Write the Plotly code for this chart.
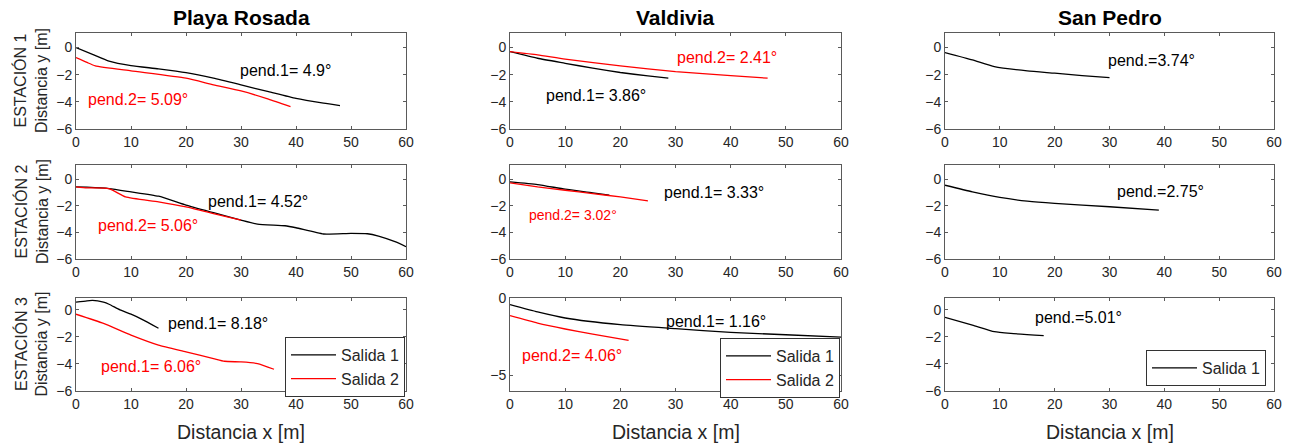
import plotly.graph_objects as go

# ---------------- data ----------------
sites = ["Playa Rosada", "Valdivia", "San Pedro"]
stations = ["ESTACIÓN 1", "ESTACIÓN 2", "ESTACIÓN 3"]
x_ticks = [0, 10, 20, 30, 40, 50, 60]

# Playa Rosada
pr1_s1_x = [0, 3, 6, 10, 15, 20, 25, 30, 35, 40, 45, 48]
pr1_s1_y = [0, -0.5, -1.0, -1.33, -1.57, -1.85, -2.26, -2.75, -3.25, -3.75, -4.1, -4.28]
pr1_s2_x = [0, 2, 3.5, 10, 20, 25, 30, 35, 39]
pr1_s2_y = [-0.74, -1.1, -1.35, -1.72, -2.26, -2.75, -3.2, -3.8, -4.35]

pr2_s1_x = [0, 2, 6, 10, 15, 20, 25, 30, 33, 38, 40, 45, 50, 53, 55, 58, 60]
pr2_s1_y = [-0.57, -0.6, -0.7, -0.95, -1.28, -1.95, -2.52, -3.08, -3.38, -3.5, -3.65, -4.12, -4.07, -4.1, -4.28, -4.7, -5.07]
pr2_s2_x = [0, 2, 6, 9, 15, 20, 25, 30]
pr2_s2_y = [-0.57, -0.65, -0.7, -1.33, -1.7, -2.08, -2.58, -3.08]

pr3_s1_x = [0, 2, 3, 5, 6, 8, 10, 12, 15]
pr3_s1_y = [0.57, 0.67, 0.7, 0.57, 0.42, 0.0, -0.32, -0.7, -1.36]
pr3_s2_x = [0, 5, 10, 15, 20, 25, 27, 30, 33, 36]
pr3_s2_y = [-0.32, -1.0, -1.86, -2.6, -3.1, -3.6, -3.8, -3.85, -3.97, -4.39]

# Valdivia
va1_s1_x = [0, 5, 10, 15, 20, 25, 28.7]
va1_s1_y = [-0.3, -0.79, -1.16, -1.52, -1.84, -2.09, -2.26]
va1_s2_x = [0, 5, 10, 20, 30, 40, 46.7]
va1_s2_y = [-0.3, -0.54, -0.86, -1.35, -1.77, -2.07, -2.26]

va2_s1_x = [0, 5, 10, 15, 18]
va2_s1_y = [-0.2, -0.4, -0.75, -1.02, -1.2]
va2_s2_x = [0, 5, 10, 15, 20, 25]
va2_s2_y = [-0.28, -0.58, -0.83, -1.08, -1.33, -1.62]

va3_s1_x = [0, 5, 10, 20, 30, 40, 50, 60]
va3_s1_y = [-0.43, -0.9, -1.29, -1.72, -1.98, -2.22, -2.37, -2.52]
va3_s2_x = [0, 5, 10, 15, 21.5]
va3_s2_y = [-1.14, -1.62, -2.0, -2.33, -2.74]

# San Pedro
sp1_s1_x = [0, 5, 9, 15, 20, 25, 30]
sp1_s1_y = [-0.37, -0.91, -1.4, -1.72, -1.89, -2.07, -2.21]
sp2_s1_x = [0, 5, 10, 15, 20, 30, 39]
sp2_s1_y = [-0.45, -0.95, -1.37, -1.65, -1.82, -2.07, -2.32]
sp3_s1_x = [0, 5, 9, 12, 18]
sp3_s1_y = [-0.55, -1.12, -1.61, -1.74, -1.91]

# slope labels: (text, x, y, colour, size)
labels = {
    (1, 1): [("pend.1= 4.9°", 29.4, -1.7, "black", 16), ("pend.2= 5.09°", 1.9, -3.8, "red", 16)],
    (2, 1): [("pend.1= 4.52°", 23.6, -1.65, "black", 16), ("pend.2= 5.06°", 3.6, -3.45, "red", 16)],
    (3, 1): [("pend.1= 8.18°", 16.4, -1.0, "black", 16), ("pend.1= 6.06°", 4.25, -4.2, "red", 16)],
    (1, 2): [("pend.2= 2.41°", 29.9, -0.71, "red", 16), ("pend.1= 3.86°", 6.2, -3.54, "black", 16)],
    (2, 2): [("pend.1= 3.33°", 27.5, -1.0, "black", 16), ("pend.2= 3.02°", 3.0, -2.7, "red", 14)],
    (3, 2): [("pend.1= 1.16°", 28.0, -1.5, "black", 16), ("pend.2= 4.06°", 1.8, -3.73, "red", 16)],
    (1, 3): [("pend.=3.74°", 29.4, -0.98, "black", 16)],
    (2, 3): [("pend.=2.75°", 31.0, -0.95, "black", 16)],
    (3, 3): [("pend.=5.01°", 16.0, -0.55, "black", 16)],
}

series = {
    (1, 1): [(pr1_s1_x, pr1_s1_y), (pr1_s2_x, pr1_s2_y)],
    (2, 1): [(pr2_s1_x, pr2_s1_y), (pr2_s2_x, pr2_s2_y)],
    (3, 1): [(pr3_s1_x, pr3_s1_y), (pr3_s2_x, pr3_s2_y)],
    (1, 2): [(va1_s1_x, va1_s1_y), (va1_s2_x, va1_s2_y)],
    (2, 2): [(va2_s1_x, va2_s1_y), (va2_s2_x, va2_s2_y)],
    (3, 2): [(va3_s1_x, va3_s1_y), (va3_s2_x, va3_s2_y)],
    (1, 3): [(sp1_s1_x, sp1_s1_y)],
    (2, 3): [(sp2_s1_x, sp2_s1_y)],
    (3, 3): [(sp3_s1_x, sp3_s1_y)],
}
series_names = ["Salida 1", "Salida 2"]
series_colors = ["black", "red"]

# ---------------- layout geometry ----------------
W, H = 1295, 445
col_px = [(76, 406), (510, 841), (945, 1274)]
row_px = [(33, 129), (165, 259), (298, 391)]
FONT = "Liberation Sans, Arial, Helvetica, sans-serif"
AX = "#262626"
LINE = "#5a5a5a"

fig = go.Figure()
layout = dict(
    width=W, height=H, margin=dict(l=0, r=0, t=0, b=0, autoexpand=False),
    paper_bgcolor="white", plot_bgcolor="white",
    font=dict(family=FONT, color=AX), showlegend=True,
)
annotations = []
legend_for = {(3, 1): "legend", (3, 2): "legend2", (3, 3): "legend3"}

for r in range(1, 4):
    for c in range(1, 4):
        idx = (r - 1) * 3 + c
        xa = "xaxis" if idx == 1 else f"xaxis{idx}"
        ya = "yaxis" if idx == 1 else f"yaxis{idx}"
        xr = "x" if idx == 1 else f"x{idx}"
        yr = "y" if idx == 1 else f"y{idx}"
        x0, x1 = col_px[c - 1]
        y0, y1 = row_px[r - 1]
        if r == 3 and c == 2:
            yrange, yticks = [-6, 0], [-5, 0]
        elif r == 3:
            yrange, yticks = [-6, 0.88], [-6, -4, -2, 0]
        else:
            yrange, yticks = [-6, 1.07], [-6, -4, -2, 0]
        layout[xa] = dict(domain=[x0 / W, x1 / W], anchor=yr, range=[0, 60],
                          tickvals=x_ticks, ticks="inside", ticklen=3, tickcolor=LINE,
                          showline=True, linecolor=LINE, linewidth=1, mirror="ticks",
                          showgrid=False, zeroline=False, automargin=False,
                          tickfont=dict(size=14, color=AX, family=FONT))
        layout[ya] = dict(domain=[1 - y1 / H, 1 - y0 / H], anchor=xr, range=yrange,
                          tickvals=yticks, ticks="inside", ticklen=3, tickcolor=LINE,
                          showline=True, linecolor=LINE, linewidth=1, mirror="ticks",
                          showgrid=False, zeroline=False, automargin=False,
                          tickfont=dict(size=14, color=AX, family=FONT))
        for k, (sx, sy) in enumerate(series[(r, c)]):
            fig.add_trace(go.Scatter(
                x=sx, y=sy, mode="lines", name=series_names[k],
                line=dict(color=series_colors[k], width=1.3, shape="spline", smoothing=0.5),
                xaxis=xr, yaxis=yr,
                showlegend=(r, c) in legend_for,
                legend=legend_for.get((r, c), "legend"),
            ))
        for (txt, tx, ty, col, sz) in labels[(r, c)]:
            annotations.append(dict(text=txt, x=tx, y=ty, xref=xr, yref=yr,
                                    xanchor="left", yanchor="middle", showarrow=False,
                                    font=dict(size=sz, color=col, family=FONT)))

# titles
for c, name in enumerate(sites):
    x0, x1 = col_px[c]
    annotations.append(dict(text=f"<b>{name}</b>", x=(x0 + x1) / 2 / W, y=1 - 17 / H,
                            xref="paper", yref="paper", showarrow=False,
                            xanchor="center", yanchor="middle",
                            font=dict(size=21, color="black", family=FONT)))
    annotations.append(dict(text="Distancia x [m]", x=(x0 + x1) / 2 / W, y=1 - 432 / H,
                            xref="paper", yref="paper", showarrow=False,
                            xanchor="center", yanchor="middle",
                            font=dict(size=19.5, color=AX, family=FONT)))
# row labels
for r, st in enumerate(stations):
    y0, y1 = row_px[r]
    annotations.append(dict(text=f"{st}<br>Distancia y [m]", x=31 / W, y=1 - (y0 + y1) / 2 / H,
                            xref="paper", yref="paper", showarrow=False, textangle=-90,
                            xanchor="center", yanchor="middle",
                            font=dict(size=16, color=AX, family=FONT)))

leg_common = dict(bgcolor="white", bordercolor="#333333", borderwidth=1,
                  font=dict(size=16, color=AX, family=FONT),
                  xanchor="right", yanchor="top", tracegroupgap=0, itemwidth=45)
layout["legend"] = dict(x=405 / W, y=1 - 337 / H, **leg_common)
layout["legend2"] = dict(x=840 / W, y=1 - 338 / H, **leg_common)
layout["legend3"] = dict(x=1266 / W, y=1 - 350 / H, **leg_common)
layout["annotations"] = annotations

fig.update_layout(**layout)
fig.write_html("out.html", config={"displayModeBar": False},
               post_script="document.body.style.margin='0px';document.body.style.overflow='hidden';")
